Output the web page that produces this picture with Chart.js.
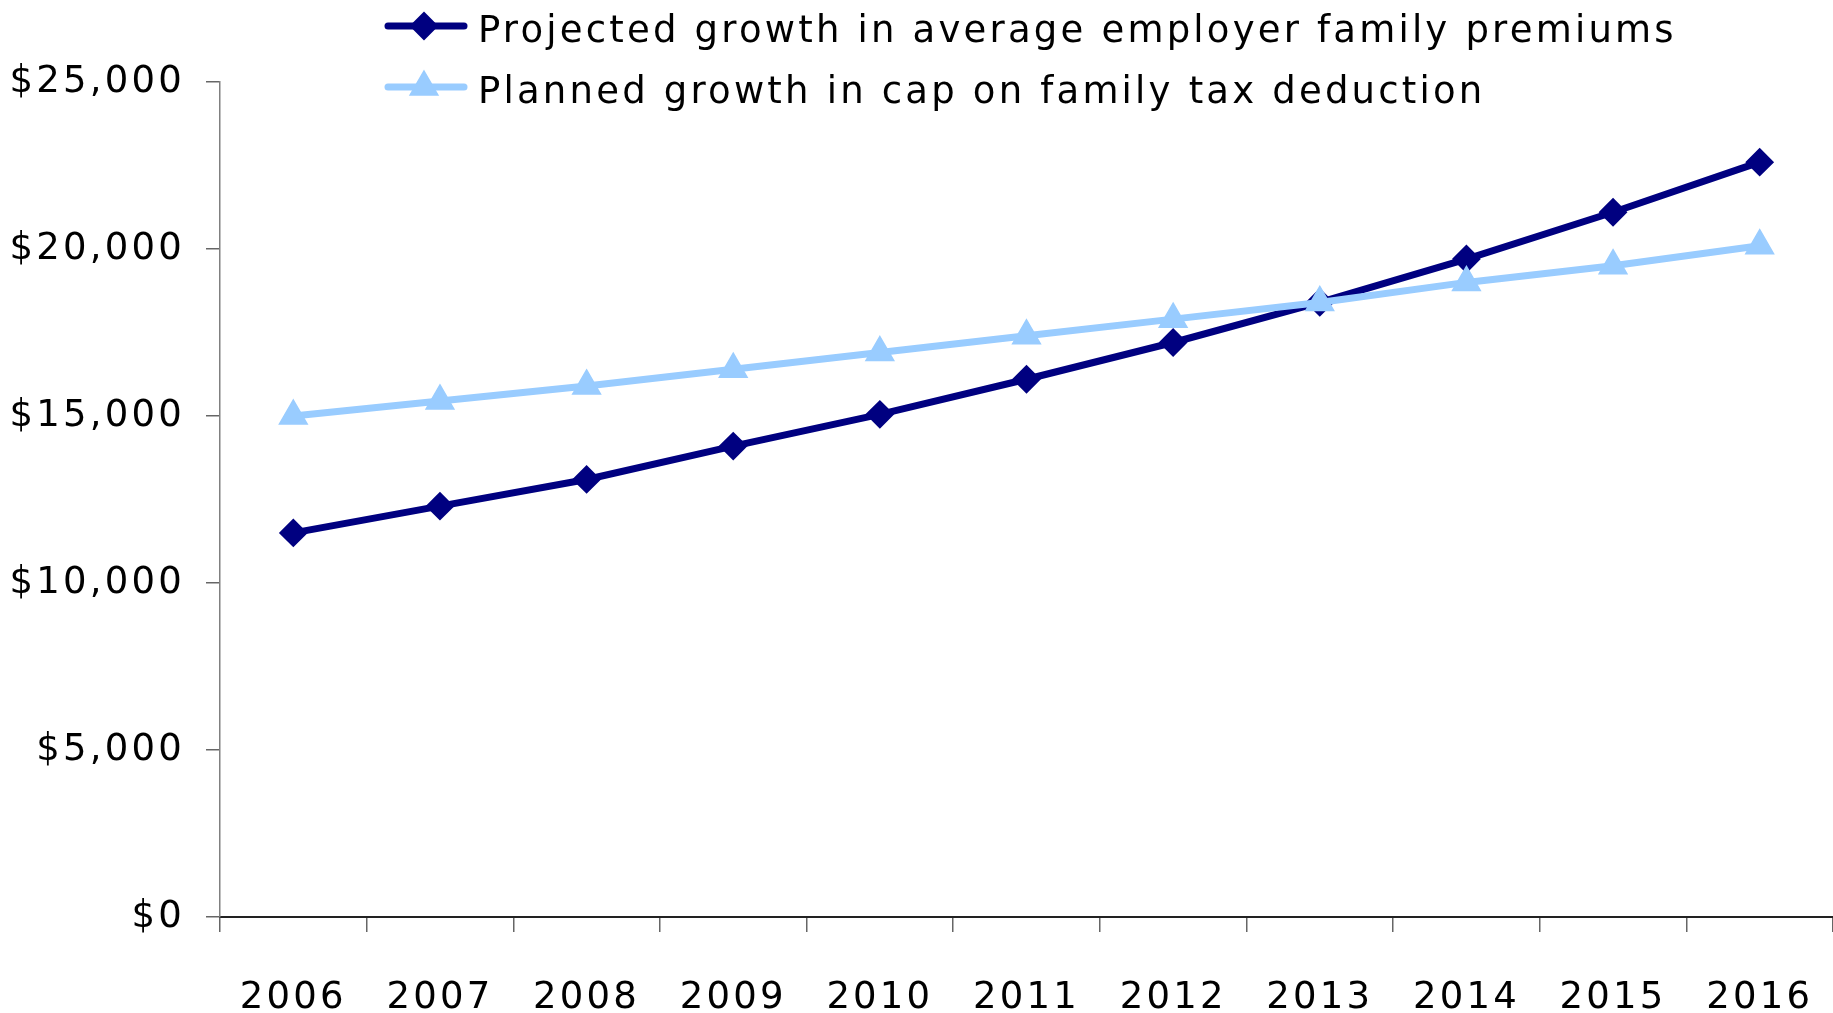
<!DOCTYPE html>
<html><head><meta charset="utf-8">
<style>html,body{margin:0;padding:0;background:#fff;overflow:hidden}#wrap{width:1833px;height:1013px;position:relative}canvas{display:block}</style>
<script src="https://cdn.jsdelivr.net/npm/chart.js@4.4.1/dist/chart.umd.min.js"></script>
</head><body><div id="wrap"><canvas id="c" width="1833" height="1013"></canvas></div>
<script>
const years = ['2006','2007','2008','2009','2010','2011','2012','2013','2014','2015','2016'];
const premiums = [11500,12300,13100,14100,15050,16100,17200,18400,19700,21100,22600];
const taxCap = [15000,15450,15900,16400,16900,17400,17900,18400,19000,19500,20100];
const yTicks = [0,5000,10000,15000,20000,25000];
const seriesNames = ['Projected growth in average employer family premiums','Planned growth in cap on family tax deduction'];
const FONT = "'DejaVu Sans', Verdana, sans-serif";
const FSIZE = 37;
const SPACING = '3.2px';

const spacingPlugin = {
  id: 'spacing',
  beforeLayout(chart){ chart.ctx.letterSpacing = SPACING; },
  beforeDraw(chart){ chart.ctx.letterSpacing = SPACING; }
};

const legendPlugin = {
  id: 'customLegend',
  afterDraw(chart){
    const ctx = chart.ctx;
    const rows = [{y:26, base:42}, {y:87, base:103}];
    chart.data.datasets.forEach((ds, i) => {
      const r = rows[i];
      ctx.save();
      ctx.strokeStyle = ds.borderColor;
      ctx.fillStyle = ds.backgroundColor;
      ctx.lineWidth = 7;
      ctx.lineCap = 'round';
      ctx.beginPath();
      ctx.moveTo(388, r.y);
      ctx.lineTo(464, r.y);
      ctx.stroke();
      ctx.lineWidth = ds.pointBorderWidth;
      if (Chart.helpers && Chart.helpers.drawPoint) {
        Chart.helpers.drawPoint(ctx, {pointStyle: ds.pointStyle, radius: ds.pointRadius, borderWidth: ds.pointBorderWidth, rotation: 0}, 424, r.y);
      }
      ctx.letterSpacing = SPACING;
      ctx.font = FSIZE + "px " + FONT;
      ctx.fillStyle = '#000';
      ctx.textBaseline = 'alphabetic';
      ctx.textAlign = 'left';
      ctx.fillText(ds.label, 478, r.base);
      ctx.restore();
    });
  }
};

new Chart(document.getElementById('c').getContext('2d'), {
  type: 'line',
  data: {
    labels: years,
    datasets: [
      {label: seriesNames[0], data: premiums, borderColor: '#000080', backgroundColor: '#000080',
       borderWidth: 7, pointStyle: 'rectRot', pointRadius: 13, pointHoverRadius: 13, pointBorderWidth: 2, order: 1, tension: 0},
      {label: seriesNames[1], data: taxCap, borderColor: '#99CCFF', backgroundColor: '#99CCFF',
       borderWidth: 7, pointStyle: 'triangle', pointRadius: 16, pointHoverRadius: 16, pointBorderWidth: 1.5, order: 0, tension: 0}
    ]
  },
  options: {
    responsive: false,
    animation: false,
    devicePixelRatio: 1,
    layout: {autoPadding: false, padding: {top: 82, left: 0, right: 0, bottom: 0}},
    plugins: {legend: {display: false}, tooltip: {enabled: false}},
    scales: {
      x: {
        offset: true,
        grid: {offset: true, drawOnChartArea: false, tickLength: 15, color: '#666', lineWidth: 1.5},
        border: {color: '#222', width: 2},
        ticks: {font: {family: FONT, size: FSIZE, lineHeight: 3.61}, color: '#000', padding: 0, maxRotation: 0, autoSkip: false},
        afterFit(s){ s.height = 96; s.paddingLeft = 0; s.paddingRight = 0; }
      },
      y: {
        min: 0, max: 25000,
        afterBuildTicks(s){ s.ticks = yTicks.map(v => ({value: v})); },
        grid: {drawOnChartArea: false, tickLength: 14, color: '#666', lineWidth: 1.5},
        border: {color: '#808080', width: 1.5},
        ticks: {font: {family: FONT, size: FSIZE}, color: '#000', padding: 21,
                callback: v => '$' + Number(v).toLocaleString('en-US')},
        afterFit(s){ s.width = 220; }
      }
    }
  },
  plugins: [spacingPlugin, legendPlugin]
});
</script></body></html>
